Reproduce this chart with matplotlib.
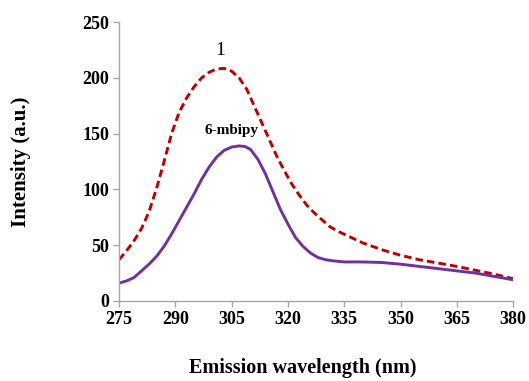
import matplotlib
matplotlib.use("Agg")
import matplotlib.pyplot as plt

# Compound 1 (red dashed)
x1 = [275, 277, 279, 281, 283, 285, 287, 289, 291, 293, 295, 297, 299, 301, 303, 305,
      307, 309, 311, 313, 315, 317, 319, 321, 323, 325, 327, 329, 331, 333, 335.5,
      340, 345, 350, 355, 360, 365, 370, 375, 380]
y1 = [37, 45, 54, 65, 80, 101, 125, 150, 169, 182, 192, 200, 205, 208, 208.5, 206,
      200, 190, 175, 160, 145, 130, 117, 105, 95, 86, 79, 73, 67, 63, 59,
      52, 46, 41, 37, 34, 31, 27.5, 24, 20]

# 6-mbipy (purple solid)
x2 = [275, 277, 279, 281, 283, 285, 287, 289, 291, 293, 295, 297, 299, 301, 303, 305,
      307, 308.5, 310, 312, 314, 316, 318, 320, 322, 324, 326, 328, 330, 332, 335,
      340, 345, 350, 355, 360, 365, 370, 375, 380]
y2 = [16, 18, 21, 27, 33, 40, 49, 60, 72, 84, 96, 109, 120, 129, 135, 138,
      139, 138.5, 136, 127, 114, 98, 82, 69, 57, 49, 43, 39, 37, 36, 35,
      35, 34.5, 33, 31, 29, 27, 25, 22, 19]

xticks = [275, 290, 305, 320, 335, 350, 365, 380]
yticks = [0, 50, 100, 150, 200, 250]

plt.rcParams['font.family'] = ['Liberation Serif', 'DejaVu Serif']

fig = plt.figure(figsize=(5.29, 3.81), dpi=100)
ax = fig.add_axes([0.225, 0.21, 0.745, 0.732])

ax.plot(x1, y1, color='#c00000', lw=2.1, linestyle=(0, (2.6, 1.4)))
ax.plot(x2, y2, color='#7030a0', lw=2.1)

ax.set_xlim(275, 380)
ax.set_ylim(0, 250)
ax.set_xticks(xticks)
ax.set_yticks(yticks)

for s in ['top', 'right']:
    ax.spines[s].set_visible(False)
for s in ['left', 'bottom']:
    ax.spines[s].set_color('#a6a6a6')
    ax.spines[s].set_linewidth(1.0)

ax.tick_params(axis='both', direction='out', length=4, width=1.0, color='#a6a6a6',
               labelsize=13, pad=3)
for lab in ax.get_xticklabels() + ax.get_yticklabels():
    lab.set_fontweight('bold')

ax.set_xlabel('Emission wavelength (nm)', fontsize=14.5, fontweight='bold')
ax.set_ylabel('Intensity (a.u.)', fontsize=15, fontweight='bold')
ax.xaxis.set_label_coords(0.467, -0.205)
ax.yaxis.set_label_coords(-0.224, 0.5)

ax.text(302, 217, '1', fontsize=14, ha='center', va='bottom')
ax.text(305, 150, '6-mbipy', fontsize=11, fontweight='bold', ha='center', va='baseline')

fig.savefig('out.png', dpi=100)
